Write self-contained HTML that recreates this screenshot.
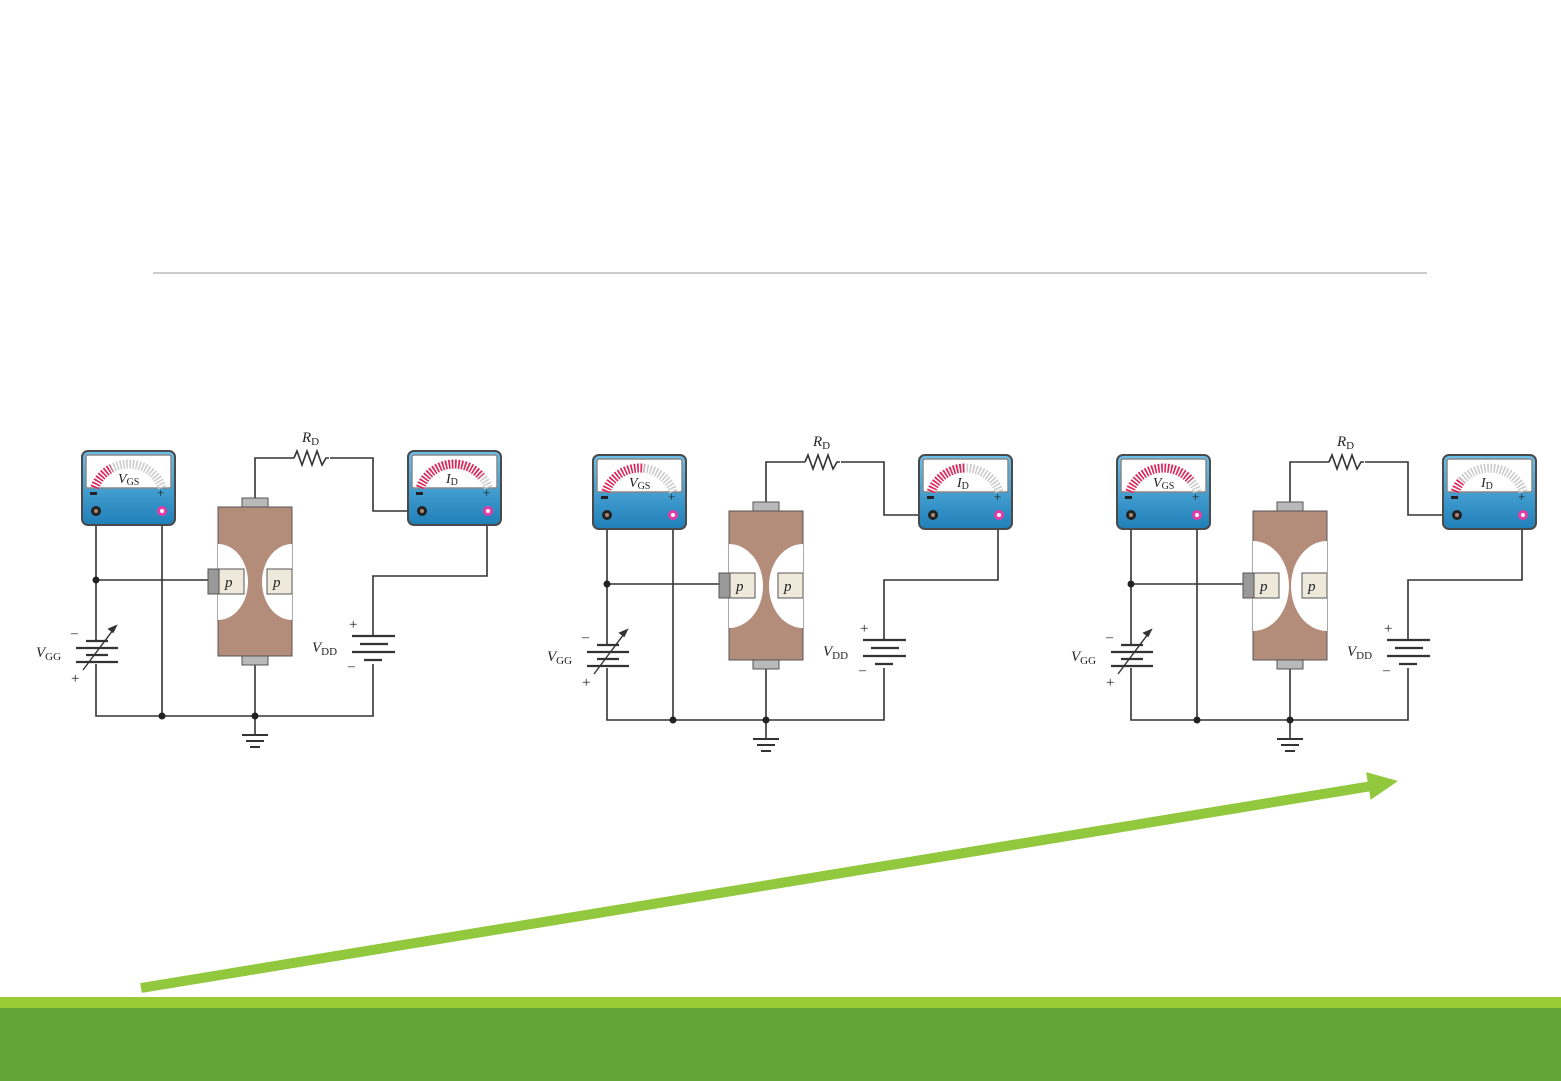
<!DOCTYPE html>
<html><head><meta charset="utf-8"><style>
html,body{margin:0;padding:0;background:#fff;}
svg{display:block;}
text{font-family:"Liberation Serif",serif;fill:#222;}
</style></head><body>
<svg width="1561" height="1081" viewBox="0 0 1561 1081" xmlns="http://www.w3.org/2000/svg">
<defs>
<linearGradient id="mb" x1="0" y1="0" x2="0" y2="1">
<stop offset="0" stop-color="#6cc0ea"/><stop offset="1" stop-color="#1f7fb8"/></linearGradient>
<clipPath id="body"><rect x="218" y="507" width="74" height="149"/></clipPath>
<g id="meter">
<rect x="0" y="0" width="93" height="74" rx="6" fill="url(#mb)" stroke="#4a4a4a" stroke-width="2"/>
<rect x="4" y="4" width="85" height="33" rx="2" fill="#fff" stroke="#888" stroke-width="1.5"/>
<path d="M12.7,36.7 A36,36 0 0 1 80.3,36.7" fill="none" stroke="#ccc" stroke-width="9" stroke-dasharray="1.6 1.6"/>
<rect x="8" y="41" width="7" height="3" fill="#222"/>
<text x="75" y="46" font-size="13" font-family="Liberation Sans">+</text>
<circle cx="14" cy="60" r="5" fill="#222"/><circle cx="14" cy="60" r="2" fill="#a87"/>
<circle cx="80" cy="60" r="5" fill="#e63aa8"/><circle cx="80" cy="60" r="2" fill="#fff"/>
</g>
<g id="circ" fill="none" stroke="#333" stroke-width="1.6">
<!-- wires -->
<path d="M96,511 V640 M96,664 V716 H373 V664 M373,636 V576 H487 V511"/>
<path d="M162,511 V716"/>
<path d="M96,580 H208"/>
<path d="M255,498 V458 H294 M330,458 H373 V511 H417"/>
<path d="M294,458 l3,-7 l5,14 l5,-14 l5,14 l5,-14 l5,14 l4,-7 h3"/>
<path d="M255,665 V716 M255,716 V735"/>
<!-- ground -->
<path d="M242,735 H268 M246,741 H264 M250,747 H260" stroke-width="2"/>
<!-- VGG battery -->
<path d="M86,641 H108 M76,648 H118 M86,655 H108 M76,662 H118" stroke-width="2.2"/>
<path d="M83,670 L113,630" stroke-width="1.4"/>
<path d="M116,626 l-7,3 l4,3 z" fill="#333"/>
<!-- VDD battery -->
<path d="M352,636 H395 M360,644 H388 M352,652 H395 M364,660 H382" stroke-width="2.2"/>
<!-- dots -->
<circle cx="96" cy="580" r="3.5" fill="#222" stroke="none"/>
<circle cx="162" cy="716" r="3.5" fill="#222" stroke="none"/>
<circle cx="255" cy="716" r="3.5" fill="#222" stroke="none"/>
</g>
</defs>

<rect x="0" y="0" width="1561" height="1081" fill="#fff"/>
<line x1="153" y1="273" x2="1427" y2="273" stroke="#9a9a9a" stroke-width="1"/>

<!-- Circuit template drawn 3 times -->
<g>
<use href="#circ"/>
<!-- JFET -->
<rect x="242" y="498" width="26" height="10" fill="#b9b9b9" stroke="#555"/>
<rect x="242" y="656" width="26" height="9" fill="#b9b9b9" stroke="#555"/>
<rect x="218" y="507" width="74" height="149" fill="#b38c7a" stroke="#555"/>
<g clip-path="url(#body)"><ellipse cx="218" cy="582" rx="30" ry="38" fill="#fff"/><ellipse cx="292" cy="582" rx="30" ry="38" fill="#fff"/></g>
<rect x="208" y="569" width="11" height="25" fill="#999" stroke="#555"/>
<rect x="219" y="569" width="25" height="25" fill="#efe9dc" stroke="#555"/>
<rect x="267" y="569" width="25" height="25" fill="#efe9dc" stroke="#555"/>
<text x="225" y="587" font-size="15" font-style="italic">p</text>
<text x="273" y="587" font-size="15" font-style="italic">p</text>
<use href="#meter" x="82" y="451"/>
<use href="#meter" x="408" y="451"/>
<path d="M94.7,487.7 A36,36 0 0 1 111.6,468.2" fill="none" stroke="#e0245a" stroke-width="9" stroke-dasharray="1.6 1.6"/>
<path d="M420.2,487.7 A36,36 0 0 1 481.2,476.4" fill="none" stroke="#e0245a" stroke-width="9" stroke-dasharray="1.6 1.6"/>
<text x="118" y="483" font-size="14" font-style="italic">V<tspan font-size="10" font-style="normal" dy="2">GS</tspan></text>
<text x="446" y="483" font-size="14" font-style="italic">I<tspan font-size="10" font-style="normal" dy="2">D</tspan></text>
<text x="302" y="442" font-size="15" font-style="italic">R<tspan font-size="11" font-style="normal" dy="3">D</tspan></text>
<text x="36" y="657" font-size="15" font-style="italic">V<tspan font-size="11" font-style="normal" dy="3">GG</tspan></text>
<text x="312" y="652" font-size="15" font-style="italic">V<tspan font-size="11" font-style="normal" dy="3">DD</tspan></text>
<text x="71" y="637" font-size="14" font-family="Liberation Sans">–</text>
<text x="71" y="683" font-size="15" font-family="Liberation Sans">+</text>
<text x="349" y="629" font-size="15" font-family="Liberation Sans">+</text>
<text x="348" y="670" font-size="14" font-family="Liberation Sans">–</text>
</g>

<g transform="translate(511,4)">
<use href="#circ"/>
<rect x="242" y="498" width="26" height="10" fill="#b9b9b9" stroke="#555"/>
<rect x="242" y="656" width="26" height="9" fill="#b9b9b9" stroke="#555"/>
<rect x="218" y="507" width="74" height="149" fill="#b38c7a" stroke="#555"/>
<g clip-path="url(#body)"><ellipse cx="218" cy="582" rx="34" ry="42" fill="#fff"/><ellipse cx="292" cy="582" rx="34" ry="42" fill="#fff"/></g>
<rect x="208" y="569" width="11" height="25" fill="#999" stroke="#555"/>
<rect x="219" y="569" width="25" height="25" fill="#efe9dc" stroke="#555"/>
<rect x="267" y="569" width="25" height="25" fill="#efe9dc" stroke="#555"/>
<text x="225" y="587" font-size="15" font-style="italic">p</text>
<text x="273" y="587" font-size="15" font-style="italic">p</text>
<use href="#meter" x="82" y="451"/>
<use href="#meter" x="408" y="451"/>
<path d="M94.7,487.7 A36,36 0 0 1 132.9,464.3" fill="none" stroke="#e0245a" stroke-width="9" stroke-dasharray="1.6 1.6"/>
<path d="M420.2,487.7 A36,36 0 0 1 454,464" fill="none" stroke="#e0245a" stroke-width="9" stroke-dasharray="1.6 1.6"/>
<text x="118" y="483" font-size="14" font-style="italic">V<tspan font-size="10" font-style="normal" dy="2">GS</tspan></text>
<text x="446" y="483" font-size="14" font-style="italic">I<tspan font-size="10" font-style="normal" dy="2">D</tspan></text>
<text x="302" y="442" font-size="15" font-style="italic">R<tspan font-size="11" font-style="normal" dy="3">D</tspan></text>
<text x="36" y="657" font-size="15" font-style="italic">V<tspan font-size="11" font-style="normal" dy="3">GG</tspan></text>
<text x="312" y="652" font-size="15" font-style="italic">V<tspan font-size="11" font-style="normal" dy="3">DD</tspan></text>
<text x="71" y="637" font-size="14" font-family="Liberation Sans">–</text>
<text x="71" y="683" font-size="15" font-family="Liberation Sans">+</text>
<text x="349" y="629" font-size="15" font-family="Liberation Sans">+</text>
<text x="348" y="670" font-size="14" font-family="Liberation Sans">–</text>
</g>

<g transform="translate(1035,4)">
<use href="#circ"/>
<rect x="242" y="498" width="26" height="10" fill="#b9b9b9" stroke="#555"/>
<rect x="242" y="656" width="26" height="9" fill="#b9b9b9" stroke="#555"/>
<rect x="218" y="507" width="74" height="149" fill="#b38c7a" stroke="#555"/>
<g clip-path="url(#body)"><ellipse cx="218" cy="582" rx="36" ry="45" fill="#fff"/><ellipse cx="292" cy="582" rx="36" ry="45" fill="#fff"/></g>
<rect x="208" y="569" width="11" height="25" fill="#999" stroke="#555"/>
<rect x="219" y="569" width="25" height="25" fill="#efe9dc" stroke="#555"/>
<rect x="267" y="569" width="25" height="25" fill="#efe9dc" stroke="#555"/>
<text x="225" y="587" font-size="15" font-style="italic">p</text>
<text x="273" y="587" font-size="15" font-style="italic">p</text>
<use href="#meter" x="82" y="451"/>
<use href="#meter" x="408" y="451"/>
<path d="M94.7,487.7 A36,36 0 0 1 155.7,476.4" fill="none" stroke="#e0245a" stroke-width="9" stroke-dasharray="1.6 1.6"/>
<path d="M420.2,487.7 A36,36 0 0 1 426.8,476.4" fill="none" stroke="#e0245a" stroke-width="9" stroke-dasharray="1.6 1.6"/>
<text x="118" y="483" font-size="14" font-style="italic">V<tspan font-size="10" font-style="normal" dy="2">GS</tspan></text>
<text x="446" y="483" font-size="14" font-style="italic">I<tspan font-size="10" font-style="normal" dy="2">D</tspan></text>
<text x="302" y="442" font-size="15" font-style="italic">R<tspan font-size="11" font-style="normal" dy="3">D</tspan></text>
<text x="36" y="657" font-size="15" font-style="italic">V<tspan font-size="11" font-style="normal" dy="3">GG</tspan></text>
<text x="312" y="652" font-size="15" font-style="italic">V<tspan font-size="11" font-style="normal" dy="3">DD</tspan></text>
<text x="71" y="637" font-size="14" font-family="Liberation Sans">–</text>
<text x="71" y="683" font-size="15" font-family="Liberation Sans">+</text>
<text x="349" y="629" font-size="15" font-family="Liberation Sans">+</text>
<text x="348" y="670" font-size="14" font-family="Liberation Sans">–</text>
</g>

<!-- green arrow -->
<line x1="141" y1="988" x2="1372" y2="786" stroke="#92c83e" stroke-width="10"/>
<polygon points="1398,781 1370.7,799.7 1366.1,772.1" fill="#92c83e"/>

<!-- bottom bars -->
<rect x="0" y="997" width="1561" height="11" fill="#9acc38"/>
<rect x="0" y="1008" width="1561" height="73" fill="#63a536"/>
</svg>
</body></html>
